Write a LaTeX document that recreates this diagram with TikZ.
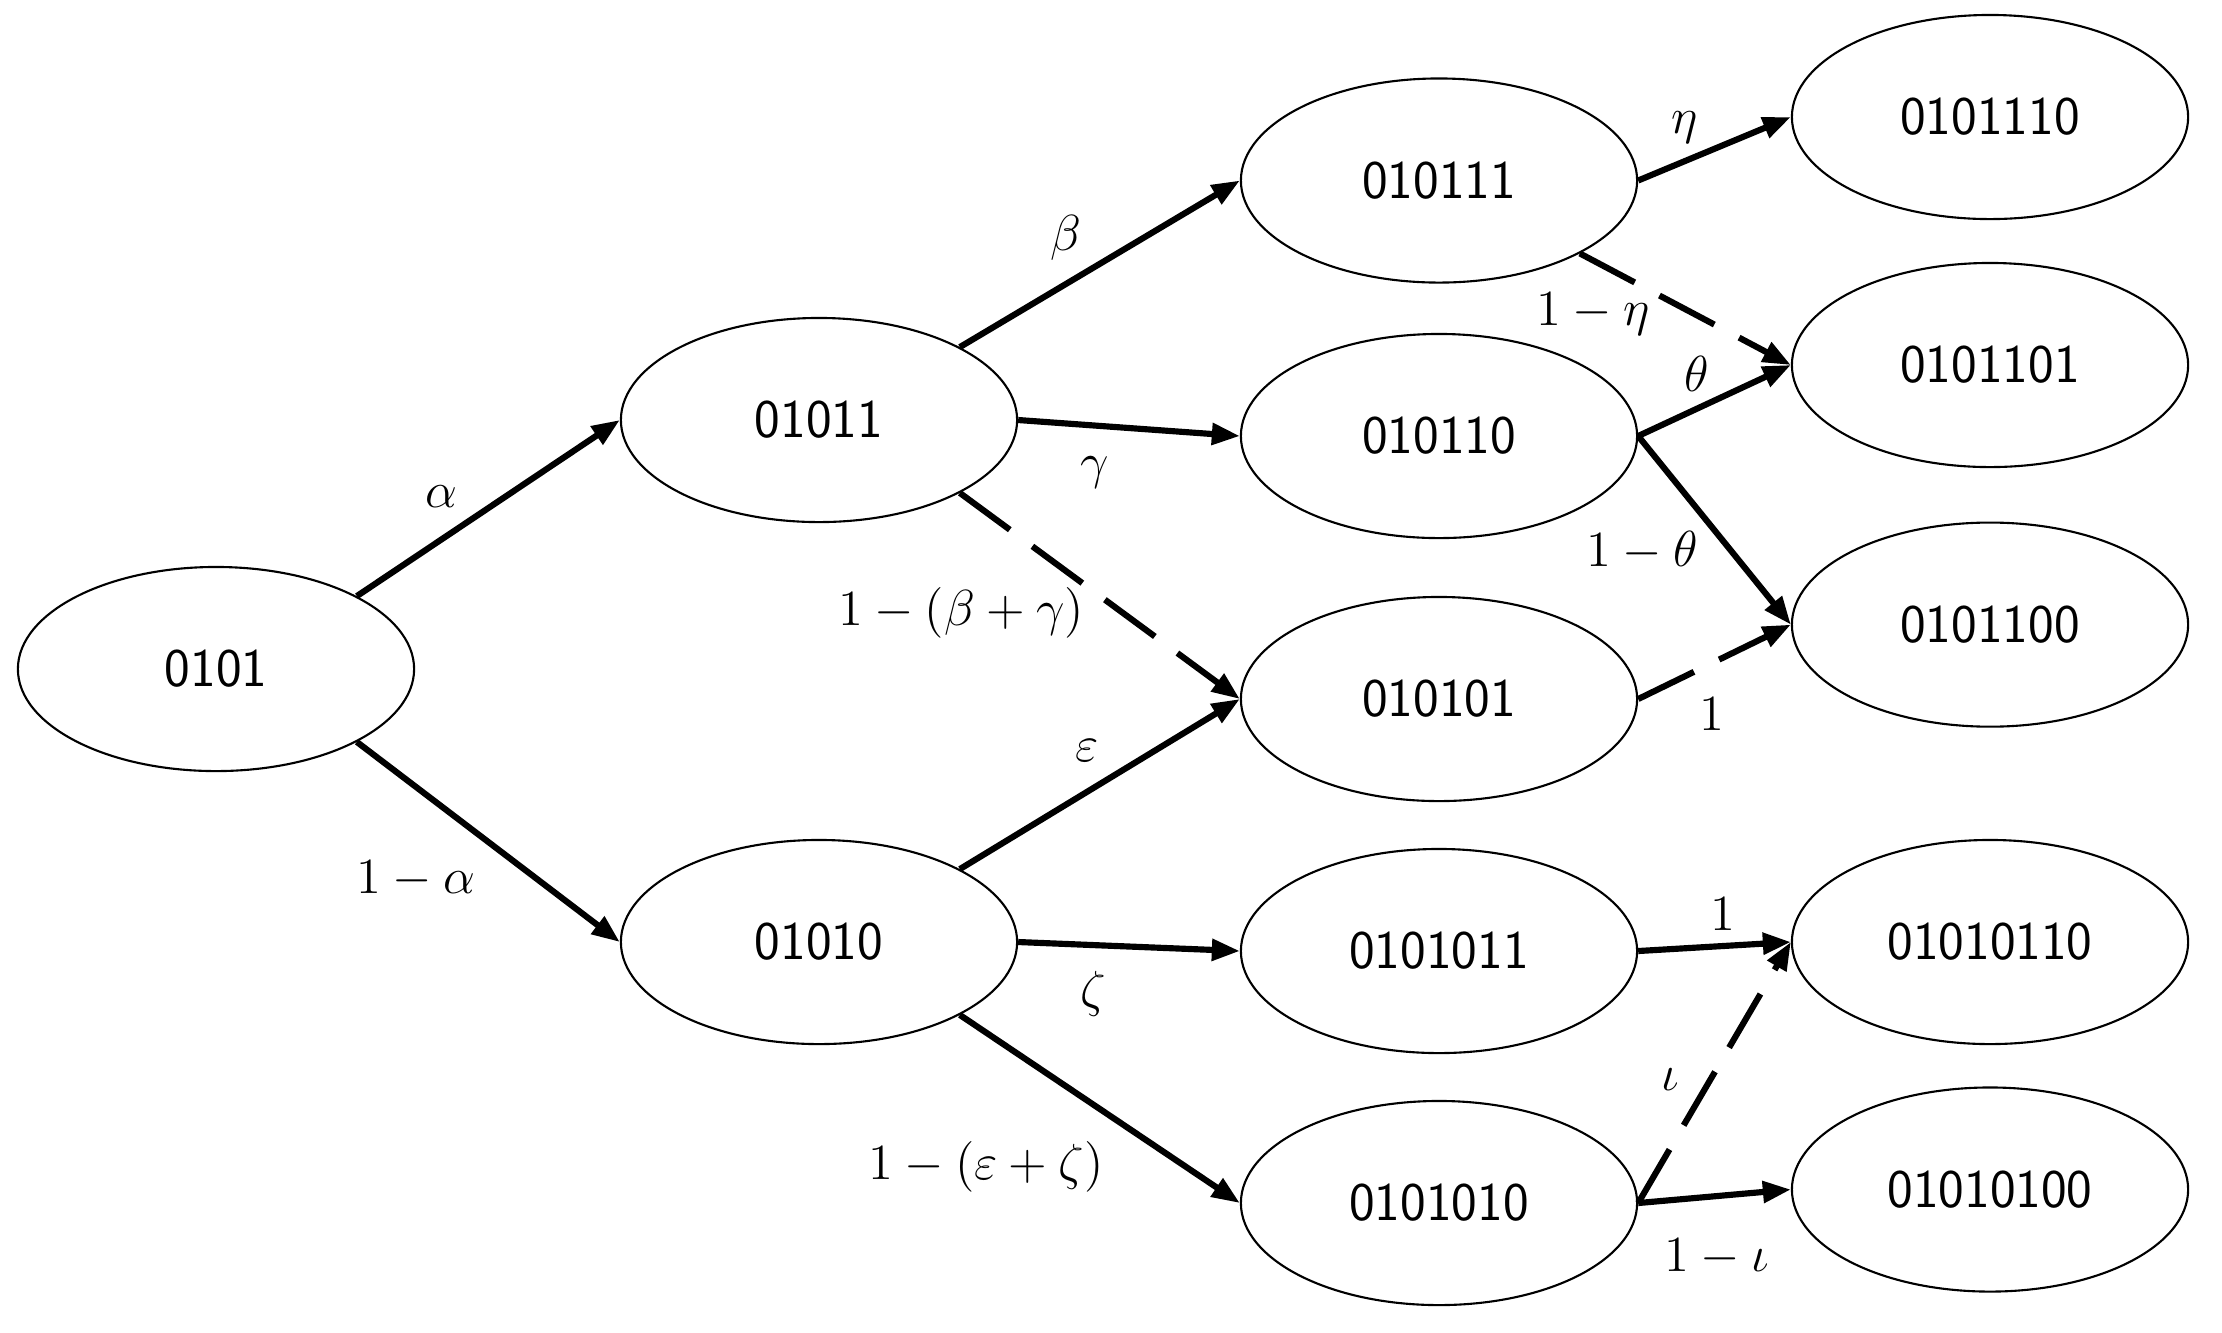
\documentclass[tikz,border=0pt]{standalone}
\usepackage{fontspec}
\usetikzlibrary{shapes.geometric,arrows.meta}
\begin{document}
\begin{tikzpicture}[x=0.01cm,y=-0.01cm,
  state/.style={ellipse,draw,line width=0.6pt,minimum width=3.96cm,minimum height=2.04cm,inner sep=0pt,font=\fontsize{15.5}{18}\selectfont\sffamily},
  arr/.style={line width=1.75pt,-{Triangle[length=0.28cm,width=0.21cm]}},
  darr/.style={arr,dash pattern=on 0.62cm off 0.28cm},
  lab/.style={inner sep=0pt,font=\fontsize{14.5}{16}\selectfont}]
\useasboundingbox (0,0) rectangle (2222,1332);
\node[state] (A) at (216,669) {0101};
\node[state] (B) at (819,420) {01011};
\node[state] (C) at (819,942) {01010};
\node[state] (D) at (1439,180.5) {010111};
\node[state] (E) at (1439,436) {010110};
\node[state] (F) at (1439,699) {010101};
\node[state] (G) at (1439,951) {0101011};
\node[state] (H) at (1439,1203) {0101010};
\node[state] (I) at (1990,117) {0101110};
\node[state] (J) at (1990,365) {0101101};
\node[state] (K) at (1990,624.6) {0101100};
\node[state] (L) at (1990,942) {01010110};
\node[state] (M) at (1990,1189.5) {01010100};

\draw[arr] (A.north east) -- (B.west);
\draw[arr] (A.south east) -- (C.west);
\draw[arr] (B.north east) -- (D.west);
\draw[arr] (B.east) -- (E.west);
\draw[darr] (B.south east) -- (F.west);
\draw[arr] (C.north east) -- (F.west);
\draw[arr] (C.east) -- (G.west);
\draw[arr] (C.south east) -- (H.west);
\draw[arr] (D.east) -- (I.west);
\draw[darr] (D.south east) -- (J.west);
\draw[arr] (E.east) -- (J.west);
\draw[arr] (E.east) -- (K.west);
\draw[darr] (F.east) -- (K.west);
\draw[arr] (G.east) -- (L.west);
\draw[darr] (H.east) -- (L.west);
\draw[arr] (H.east) -- (M.west);

\node[lab] (la) at (441,497) {$\alpha$};
\node[lab] (lna) at (416,879) {$1-\alpha$};
\node[lab] (lb) at (1066,238) {$\beta$};
\node[lab] (lg) at (1095,472) {$\gamma$};
\node[lab] (lbg) at (961,613) {$1-(\beta+\gamma)$};
\node[lab] (le) at (1087,751) {$\varepsilon$};
\node[lab] (lz) at (1093,994) {$\zeta$};
\node[lab] (lez) at (986,1167) {$1-(\varepsilon+\zeta)$};
\node[lab] (lh) at (1685,128) {$\eta$};
\node[lab] (lnh) at (1593,314) {$1-\eta$};
\node[lab] (lt) at (1697,374) {$\theta$};
\node[lab] (lnt) at (1642,551) {$1-\theta$};
\node[lab] (l1a) at (1712,714) {$1$};
\node[lab] (l1b) at (1723,914) {$1$};
\node[lab] (li) at (1670,1080) {$\iota$};
\node[lab] (lni) at (1717,1257) {$1-\iota$};
\end{tikzpicture}
\end{document}
